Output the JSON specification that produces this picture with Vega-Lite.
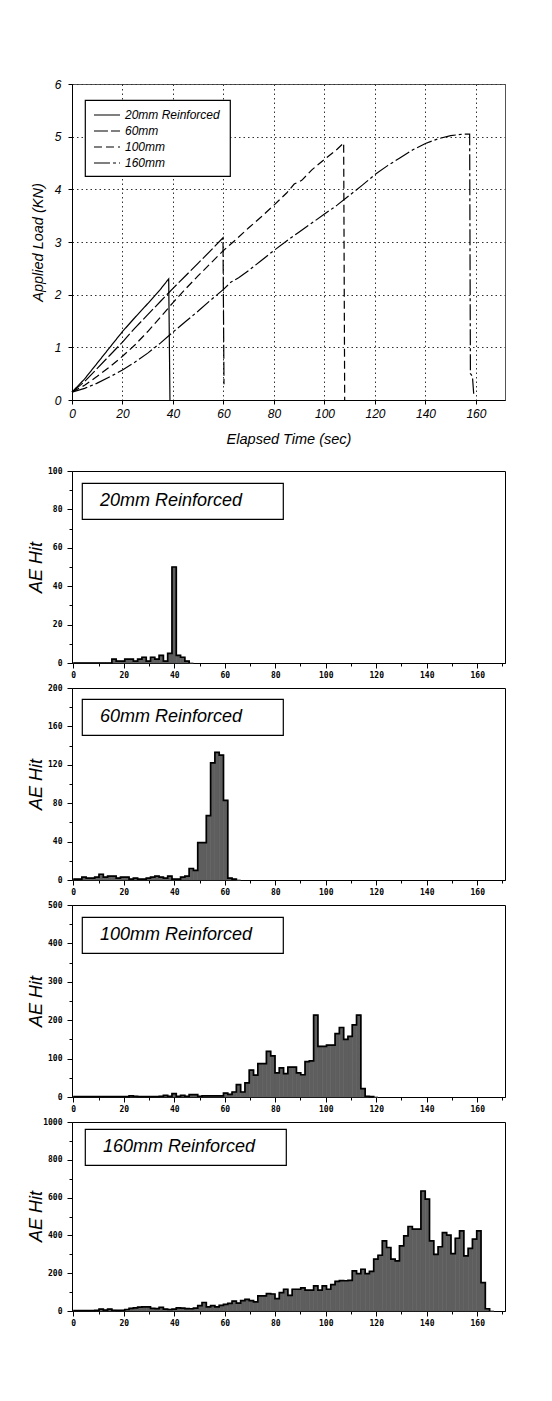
{
"$schema": "https://vega.github.io/schema/vega-lite/v6.json",
"background": "white",
"padding": {"left": 26, "top": 77, "right": 5, "bottom": 5},
"bounds": "flush",
"spacing": 71,
"config": {
  "font": "Liberation Sans",
  "view": {"stroke": "#000", "strokeWidth": 1},
  "axis": {"labelFlush": false, "labelOverlap": false, "domainColor": "#000", "tickColor": "#000", "labelColor": "#000", "titleColor": "#000"},
  "legend": {"strokeWidth": 1.2}
},
"datasets": {
  "load": [
    {"t":0,"load":0.15,"series":"20mm Reinforced"},{"t":5,"load":0.4,"series":"20mm Reinforced"},{"t":10,"load":0.7,"series":"20mm Reinforced"},{"t":15,"load":1.0,"series":"20mm Reinforced"},{"t":20,"load":1.3,"series":"20mm Reinforced"},{"t":25,"load":1.57,"series":"20mm Reinforced"},{"t":30,"load":1.83,"series":"20mm Reinforced"},{"t":35,"load":2.1,"series":"20mm Reinforced"},{"t":38.3,"load":2.3,"series":"20mm Reinforced"},{"t":38.8,"load":0,"series":"20mm Reinforced"},
    {"t":0,"load":0.15,"series":"60mm"},{"t":5,"load":0.35,"series":"60mm"},{"t":10,"load":0.6,"series":"60mm"},{"t":15,"load":0.85,"series":"60mm"},{"t":20,"load":1.1,"series":"60mm"},{"t":25,"load":1.37,"series":"60mm"},{"t":30,"load":1.62,"series":"60mm"},{"t":35,"load":1.87,"series":"60mm"},{"t":40,"load":2.12,"series":"60mm"},{"t":45,"load":2.36,"series":"60mm"},{"t":50,"load":2.6,"series":"60mm"},{"t":55,"load":2.84,"series":"60mm"},{"t":59.8,"load":3.08,"series":"60mm"},{"t":60.2,"load":0.3,"series":"60mm"},
    {"t":0,"load":0.15,"series":"100mm"},{"t":5,"load":0.28,"series":"100mm"},{"t":10,"load":0.45,"series":"100mm"},{"t":15,"load":0.63,"series":"100mm"},{"t":20,"load":0.83,"series":"100mm"},{"t":25,"load":1.05,"series":"100mm"},{"t":30,"load":1.3,"series":"100mm"},{"t":35,"load":1.57,"series":"100mm"},{"t":40,"load":1.85,"series":"100mm"},{"t":45,"load":2.11,"series":"100mm"},{"t":50,"load":2.36,"series":"100mm"},{"t":55,"load":2.6,"series":"100mm"},{"t":60,"load":2.84,"series":"100mm"},{"t":65,"load":3.05,"series":"100mm"},{"t":70,"load":3.27,"series":"100mm"},{"t":75,"load":3.48,"series":"100mm"},{"t":80,"load":3.7,"series":"100mm"},{"t":85,"load":3.93,"series":"100mm"},{"t":88,"load":4.1,"series":"100mm"},{"t":91,"load":4.17,"series":"100mm"},{"t":95,"load":4.37,"series":"100mm"},{"t":100,"load":4.57,"series":"100mm"},{"t":105,"load":4.76,"series":"100mm"},{"t":107.6,"load":4.88,"series":"100mm"},{"t":108,"load":0,"series":"100mm"},
    {"t":0,"load":0.15,"series":"160mm"},{"t":5,"load":0.22,"series":"160mm"},{"t":10,"load":0.32,"series":"160mm"},{"t":15,"load":0.44,"series":"160mm"},{"t":20,"load":0.57,"series":"160mm"},{"t":25,"load":0.72,"series":"160mm"},{"t":30,"load":0.89,"series":"160mm"},{"t":35,"load":1.08,"series":"160mm"},{"t":40,"load":1.29,"series":"160mm"},{"t":45,"load":1.49,"series":"160mm"},{"t":50,"load":1.69,"series":"160mm"},{"t":55,"load":1.9,"series":"160mm"},{"t":60,"load":2.1,"series":"160mm"},{"t":63,"load":2.24,"series":"160mm"},{"t":66,"load":2.32,"series":"160mm"},{"t":70,"load":2.46,"series":"160mm"},{"t":75,"load":2.65,"series":"160mm"},{"t":80,"load":2.84,"series":"160mm"},{"t":85,"load":3.02,"series":"160mm"},{"t":90,"load":3.19,"series":"160mm"},{"t":95,"load":3.36,"series":"160mm"},{"t":100,"load":3.53,"series":"160mm"},{"t":105,"load":3.7,"series":"160mm"},{"t":110,"load":3.89,"series":"160mm"},{"t":115,"load":4.08,"series":"160mm"},{"t":120,"load":4.28,"series":"160mm"},{"t":125,"load":4.45,"series":"160mm"},{"t":130,"load":4.6,"series":"160mm"},{"t":135,"load":4.75,"series":"160mm"},{"t":140,"load":4.87,"series":"160mm"},{"t":145,"load":4.96,"series":"160mm"},{"t":150,"load":5.02,"series":"160mm"},{"t":155,"load":5.05,"series":"160mm"},{"t":157.5,"load":5.05,"series":"160mm"},{"t":157.8,"load":0.5,"series":"160mm"},{"t":158.6,"load":0.45,"series":"160mm"},{"t":159.1,"load":0.12,"series":"160mm"}
  ],
  "hits": [
    {"start":0,"end":1.7,"hits":0,"specimen":"20mm Reinforced"},{"start":1.7,"end":3.4,"hits":0,"specimen":"20mm Reinforced"},{"start":3.4,"end":5.1,"hits":0,"specimen":"20mm Reinforced"},{"start":5.1,"end":6.8,"hits":0,"specimen":"20mm Reinforced"},{"start":6.8,"end":8.5,"hits":0,"specimen":"20mm Reinforced"},{"start":8.5,"end":10.2,"hits":0,"specimen":"20mm Reinforced"},{"start":10.2,"end":11.9,"hits":0,"specimen":"20mm Reinforced"},{"start":11.9,"end":13.6,"hits":0,"specimen":"20mm Reinforced"},{"start":13.6,"end":15.3,"hits":0,"specimen":"20mm Reinforced"},{"start":15.3,"end":17,"hits":2,"specimen":"20mm Reinforced"},{"start":17,"end":18.7,"hits":1,"specimen":"20mm Reinforced"},{"start":18.7,"end":20.4,"hits":1,"specimen":"20mm Reinforced"},{"start":20.4,"end":22.1,"hits":2,"specimen":"20mm Reinforced"},{"start":22.1,"end":23.8,"hits":2,"specimen":"20mm Reinforced"},{"start":23.8,"end":25.5,"hits":1,"specimen":"20mm Reinforced"},{"start":25.5,"end":27.2,"hits":2,"specimen":"20mm Reinforced"},{"start":27.2,"end":28.9,"hits":3,"specimen":"20mm Reinforced"},{"start":28.9,"end":30.6,"hits":1,"specimen":"20mm Reinforced"},{"start":30.6,"end":32.3,"hits":3,"specimen":"20mm Reinforced"},{"start":32.3,"end":34,"hits":2,"specimen":"20mm Reinforced"},{"start":34,"end":35.7,"hits":4,"specimen":"20mm Reinforced"},{"start":35.7,"end":37.4,"hits":1,"specimen":"20mm Reinforced"},{"start":37.4,"end":39.1,"hits":5,"specimen":"20mm Reinforced"},{"start":39.1,"end":40.8,"hits":50,"specimen":"20mm Reinforced"},{"start":40.8,"end":42.5,"hits":4,"specimen":"20mm Reinforced"},{"start":42.5,"end":44.2,"hits":3,"specimen":"20mm Reinforced"},{"start":44.2,"end":45.9,"hits":1,"specimen":"20mm Reinforced"},{"start":45.9,"end":47.6,"hits":0,"specimen":"20mm Reinforced"},

    {"start":0,"end":1.7,"hits":1,"specimen":"60mm Reinforced"},{"start":1.7,"end":3.4,"hits":1,"specimen":"60mm Reinforced"},{"start":3.4,"end":5.1,"hits":3,"specimen":"60mm Reinforced"},{"start":5.1,"end":6.8,"hits":2,"specimen":"60mm Reinforced"},{"start":6.8,"end":8.5,"hits":2,"specimen":"60mm Reinforced"},{"start":8.5,"end":10.2,"hits":3,"specimen":"60mm Reinforced"},{"start":10.2,"end":11.9,"hits":6,"specimen":"60mm Reinforced"},{"start":11.9,"end":13.6,"hits":3,"specimen":"60mm Reinforced"},{"start":13.6,"end":15.3,"hits":4,"specimen":"60mm Reinforced"},{"start":15.3,"end":17,"hits":4,"specimen":"60mm Reinforced"},{"start":17,"end":18.7,"hits":2,"specimen":"60mm Reinforced"},{"start":18.7,"end":20.4,"hits":3,"specimen":"60mm Reinforced"},{"start":20.4,"end":22.1,"hits":3,"specimen":"60mm Reinforced"},{"start":22.1,"end":23.8,"hits":1,"specimen":"60mm Reinforced"},{"start":23.8,"end":25.5,"hits":2,"specimen":"60mm Reinforced"},{"start":25.5,"end":27.2,"hits":1,"specimen":"60mm Reinforced"},{"start":27.2,"end":28.9,"hits":1,"specimen":"60mm Reinforced"},{"start":28.9,"end":30.6,"hits":2,"specimen":"60mm Reinforced"},{"start":30.6,"end":32.3,"hits":3,"specimen":"60mm Reinforced"},{"start":32.3,"end":34,"hits":4,"specimen":"60mm Reinforced"},{"start":34,"end":35.7,"hits":3,"specimen":"60mm Reinforced"},{"start":35.7,"end":37.4,"hits":2,"specimen":"60mm Reinforced"},{"start":37.4,"end":39.1,"hits":4,"specimen":"60mm Reinforced"},{"start":39.1,"end":40.8,"hits":1,"specimen":"60mm Reinforced"},{"start":40.8,"end":42.5,"hits":1,"specimen":"60mm Reinforced"},{"start":42.5,"end":44.2,"hits":3,"specimen":"60mm Reinforced"},{"start":44.2,"end":45.9,"hits":4,"specimen":"60mm Reinforced"},{"start":45.9,"end":47.6,"hits":12,"specimen":"60mm Reinforced"},{"start":47.6,"end":49.3,"hits":10,"specimen":"60mm Reinforced"},{"start":49.3,"end":51,"hits":39,"specimen":"60mm Reinforced"},{"start":51,"end":52.7,"hits":39,"specimen":"60mm Reinforced"},{"start":52.7,"end":54.4,"hits":67,"specimen":"60mm Reinforced"},{"start":54.4,"end":56.1,"hits":122,"specimen":"60mm Reinforced"},{"start":56.1,"end":57.8,"hits":133,"specimen":"60mm Reinforced"},{"start":57.8,"end":59.5,"hits":130,"specimen":"60mm Reinforced"},{"start":59.5,"end":61.2,"hits":83,"specimen":"60mm Reinforced"},{"start":61.2,"end":62.9,"hits":2,"specimen":"60mm Reinforced"},{"start":62.9,"end":64.6,"hits":1,"specimen":"60mm Reinforced"},{"start":64.6,"end":66.3,"hits":0,"specimen":"60mm Reinforced"},

    {"start":0,"end":1.7,"hits":1,"specimen":"100mm Reinforced"},{"start":1.7,"end":3.4,"hits":1,"specimen":"100mm Reinforced"},{"start":3.4,"end":5.1,"hits":1,"specimen":"100mm Reinforced"},{"start":5.1,"end":6.8,"hits":1,"specimen":"100mm Reinforced"},{"start":6.8,"end":8.5,"hits":1,"specimen":"100mm Reinforced"},{"start":8.5,"end":10.2,"hits":1,"specimen":"100mm Reinforced"},{"start":10.2,"end":11.9,"hits":1,"specimen":"100mm Reinforced"},{"start":11.9,"end":13.6,"hits":1,"specimen":"100mm Reinforced"},{"start":13.6,"end":15.3,"hits":1,"specimen":"100mm Reinforced"},{"start":15.3,"end":17,"hits":1,"specimen":"100mm Reinforced"},{"start":17,"end":18.7,"hits":1,"specimen":"100mm Reinforced"},{"start":18.7,"end":20.4,"hits":1,"specimen":"100mm Reinforced"},{"start":20.4,"end":22.1,"hits":1,"specimen":"100mm Reinforced"},{"start":22.1,"end":23.8,"hits":3,"specimen":"100mm Reinforced"},{"start":23.8,"end":25.5,"hits":2,"specimen":"100mm Reinforced"},{"start":25.5,"end":27.2,"hits":1,"specimen":"100mm Reinforced"},{"start":27.2,"end":28.9,"hits":1,"specimen":"100mm Reinforced"},{"start":28.9,"end":30.6,"hits":1,"specimen":"100mm Reinforced"},{"start":30.6,"end":32.3,"hits":1,"specimen":"100mm Reinforced"},{"start":32.3,"end":34,"hits":1,"specimen":"100mm Reinforced"},{"start":34,"end":35.7,"hits":2,"specimen":"100mm Reinforced"},{"start":35.7,"end":37.4,"hits":4,"specimen":"100mm Reinforced"},{"start":37.4,"end":39.1,"hits":2,"specimen":"100mm Reinforced"},{"start":39.1,"end":40.8,"hits":9,"specimen":"100mm Reinforced"},{"start":40.8,"end":42.5,"hits":2,"specimen":"100mm Reinforced"},{"start":42.5,"end":44.2,"hits":4,"specimen":"100mm Reinforced"},{"start":44.2,"end":45.9,"hits":2,"specimen":"100mm Reinforced"},{"start":45.9,"end":47.6,"hits":6,"specimen":"100mm Reinforced"},{"start":47.6,"end":49.3,"hits":6,"specimen":"100mm Reinforced"},{"start":49.3,"end":51,"hits":2,"specimen":"100mm Reinforced"},{"start":51,"end":52.7,"hits":3,"specimen":"100mm Reinforced"},{"start":52.7,"end":54.4,"hits":3,"specimen":"100mm Reinforced"},{"start":54.4,"end":56.1,"hits":3,"specimen":"100mm Reinforced"},{"start":56.1,"end":57.8,"hits":3,"specimen":"100mm Reinforced"},{"start":57.8,"end":59.5,"hits":3,"specimen":"100mm Reinforced"},{"start":59.5,"end":61.2,"hits":10,"specimen":"100mm Reinforced"},{"start":61.2,"end":62.9,"hits":7,"specimen":"100mm Reinforced"},{"start":62.9,"end":64.6,"hits":13,"specimen":"100mm Reinforced"},{"start":64.6,"end":66.3,"hits":32,"specimen":"100mm Reinforced"},{"start":66.3,"end":68,"hits":13,"specimen":"100mm Reinforced"},{"start":68,"end":69.7,"hits":37,"specimen":"100mm Reinforced"},{"start":69.7,"end":71.4,"hits":70,"specimen":"100mm Reinforced"},{"start":71.4,"end":73.1,"hits":57,"specimen":"100mm Reinforced"},{"start":73.1,"end":74.8,"hits":87,"specimen":"100mm Reinforced"},{"start":74.8,"end":76.5,"hits":87,"specimen":"100mm Reinforced"},{"start":76.5,"end":78.2,"hits":119,"specimen":"100mm Reinforced"},{"start":78.2,"end":79.9,"hits":107,"specimen":"100mm Reinforced"},{"start":79.9,"end":81.6,"hits":63,"specimen":"100mm Reinforced"},{"start":81.6,"end":83.3,"hits":76,"specimen":"100mm Reinforced"},{"start":83.3,"end":85,"hits":61,"specimen":"100mm Reinforced"},{"start":85,"end":86.7,"hits":78,"specimen":"100mm Reinforced"},{"start":86.7,"end":88.4,"hits":78,"specimen":"100mm Reinforced"},{"start":88.4,"end":90.1,"hits":63,"specimen":"100mm Reinforced"},{"start":90.1,"end":91.8,"hits":58,"specimen":"100mm Reinforced"},{"start":91.8,"end":93.5,"hits":92,"specimen":"100mm Reinforced"},{"start":93.5,"end":95.2,"hits":94,"specimen":"100mm Reinforced"},{"start":95.2,"end":96.9,"hits":213,"specimen":"100mm Reinforced"},{"start":96.9,"end":98.6,"hits":132,"specimen":"100mm Reinforced"},{"start":98.6,"end":100.3,"hits":132,"specimen":"100mm Reinforced"},{"start":100.3,"end":102,"hits":135,"specimen":"100mm Reinforced"},{"start":102,"end":103.7,"hits":135,"specimen":"100mm Reinforced"},{"start":103.7,"end":105.4,"hits":165,"specimen":"100mm Reinforced"},{"start":105.4,"end":107.1,"hits":181,"specimen":"100mm Reinforced"},{"start":107.1,"end":108.8,"hits":150,"specimen":"100mm Reinforced"},{"start":108.8,"end":110.5,"hits":158,"specimen":"100mm Reinforced"},{"start":110.5,"end":112.2,"hits":188,"specimen":"100mm Reinforced"},{"start":112.2,"end":113.9,"hits":213,"specimen":"100mm Reinforced"},{"start":113.9,"end":115.6,"hits":22,"specimen":"100mm Reinforced"},{"start":115.6,"end":117.3,"hits":2,"specimen":"100mm Reinforced"},{"start":117.3,"end":119,"hits":1,"specimen":"100mm Reinforced"},{"start":119,"end":120.7,"hits":0,"specimen":"100mm Reinforced"},

    {"start":0,"end":1.7,"hits":2,"specimen":"160mm Reinforced"},{"start":1.7,"end":3.4,"hits":2,"specimen":"160mm Reinforced"},{"start":3.4,"end":5.1,"hits":2,"specimen":"160mm Reinforced"},{"start":5.1,"end":6.8,"hits":2,"specimen":"160mm Reinforced"},{"start":6.8,"end":8.5,"hits":2,"specimen":"160mm Reinforced"},{"start":8.5,"end":10.2,"hits":3,"specimen":"160mm Reinforced"},{"start":10.2,"end":11.9,"hits":10,"specimen":"160mm Reinforced"},{"start":11.9,"end":13.6,"hits":5,"specimen":"160mm Reinforced"},{"start":13.6,"end":15.3,"hits":10,"specimen":"160mm Reinforced"},{"start":15.3,"end":17,"hits":4,"specimen":"160mm Reinforced"},{"start":17,"end":18.7,"hits":3,"specimen":"160mm Reinforced"},{"start":18.7,"end":20.4,"hits":4,"specimen":"160mm Reinforced"},{"start":20.4,"end":22.1,"hits":8,"specimen":"160mm Reinforced"},{"start":22.1,"end":23.8,"hits":14,"specimen":"160mm Reinforced"},{"start":23.8,"end":25.5,"hits":17,"specimen":"160mm Reinforced"},{"start":25.5,"end":27.2,"hits":20,"specimen":"160mm Reinforced"},{"start":27.2,"end":28.9,"hits":22,"specimen":"160mm Reinforced"},{"start":28.9,"end":30.6,"hits":22,"specimen":"160mm Reinforced"},{"start":30.6,"end":32.3,"hits":14,"specimen":"160mm Reinforced"},{"start":32.3,"end":34,"hits":13,"specimen":"160mm Reinforced"},{"start":34,"end":35.7,"hits":19,"specimen":"160mm Reinforced"},{"start":35.7,"end":37.4,"hits":10,"specimen":"160mm Reinforced"},{"start":37.4,"end":39.1,"hits":8,"specimen":"160mm Reinforced"},{"start":39.1,"end":40.8,"hits":10,"specimen":"160mm Reinforced"},{"start":40.8,"end":42.5,"hits":17,"specimen":"160mm Reinforced"},{"start":42.5,"end":44.2,"hits":15,"specimen":"160mm Reinforced"},{"start":44.2,"end":45.9,"hits":13,"specimen":"160mm Reinforced"},{"start":45.9,"end":47.6,"hits":12,"specimen":"160mm Reinforced"},{"start":47.6,"end":49.3,"hits":15,"specimen":"160mm Reinforced"},{"start":49.3,"end":51,"hits":28,"specimen":"160mm Reinforced"},{"start":51,"end":52.7,"hits":45,"specimen":"160mm Reinforced"},{"start":52.7,"end":54.4,"hits":22,"specimen":"160mm Reinforced"},{"start":54.4,"end":56.1,"hits":28,"specimen":"160mm Reinforced"},{"start":56.1,"end":57.8,"hits":22,"specimen":"160mm Reinforced"},{"start":57.8,"end":59.5,"hits":30,"specimen":"160mm Reinforced"},{"start":59.5,"end":61.2,"hits":35,"specimen":"160mm Reinforced"},{"start":61.2,"end":62.9,"hits":40,"specimen":"160mm Reinforced"},{"start":62.9,"end":64.6,"hits":52,"specimen":"160mm Reinforced"},{"start":64.6,"end":66.3,"hits":42,"specimen":"160mm Reinforced"},{"start":66.3,"end":68,"hits":55,"specimen":"160mm Reinforced"},{"start":68,"end":69.7,"hits":62,"specimen":"160mm Reinforced"},{"start":69.7,"end":71.4,"hits":55,"specimen":"160mm Reinforced"},{"start":71.4,"end":73.1,"hits":48,"specimen":"160mm Reinforced"},{"start":73.1,"end":74.8,"hits":80,"specimen":"160mm Reinforced"},{"start":74.8,"end":76.5,"hits":80,"specimen":"160mm Reinforced"},{"start":76.5,"end":78.2,"hits":92,"specimen":"160mm Reinforced"},{"start":78.2,"end":79.9,"hits":90,"specimen":"160mm Reinforced"},{"start":79.9,"end":81.6,"hits":65,"specimen":"160mm Reinforced"},{"start":81.6,"end":83.3,"hits":97,"specimen":"160mm Reinforced"},{"start":83.3,"end":85,"hits":115,"specimen":"160mm Reinforced"},{"start":85,"end":86.7,"hits":83,"specimen":"160mm Reinforced"},{"start":86.7,"end":88.4,"hits":115,"specimen":"160mm Reinforced"},{"start":88.4,"end":90.1,"hits":115,"specimen":"160mm Reinforced"},{"start":90.1,"end":91.8,"hits":122,"specimen":"160mm Reinforced"},{"start":91.8,"end":93.5,"hits":110,"specimen":"160mm Reinforced"},{"start":93.5,"end":95.2,"hits":110,"specimen":"160mm Reinforced"},{"start":95.2,"end":96.9,"hits":133,"specimen":"160mm Reinforced"},{"start":96.9,"end":98.6,"hits":110,"specimen":"160mm Reinforced"},{"start":98.6,"end":100.3,"hits":133,"specimen":"160mm Reinforced"},{"start":100.3,"end":102,"hits":115,"specimen":"160mm Reinforced"},{"start":102,"end":103.7,"hits":140,"specimen":"160mm Reinforced"},{"start":103.7,"end":105.4,"hits":157,"specimen":"160mm Reinforced"},{"start":105.4,"end":107.1,"hits":161,"specimen":"160mm Reinforced"},{"start":107.1,"end":108.8,"hits":160,"specimen":"160mm Reinforced"},{"start":108.8,"end":110.5,"hits":162,"specimen":"160mm Reinforced"},{"start":110.5,"end":112.2,"hits":212,"specimen":"160mm Reinforced"},{"start":112.2,"end":113.9,"hits":198,"specimen":"160mm Reinforced"},{"start":113.9,"end":115.6,"hits":221,"specimen":"160mm Reinforced"},{"start":115.6,"end":117.3,"hits":198,"specimen":"160mm Reinforced"},{"start":117.3,"end":119,"hits":210,"specimen":"160mm Reinforced"},{"start":119,"end":120.7,"hits":274,"specimen":"160mm Reinforced"},{"start":120.7,"end":122.4,"hits":295,"specimen":"160mm Reinforced"},{"start":122.4,"end":124.1,"hits":371,"specimen":"160mm Reinforced"},{"start":124.1,"end":125.8,"hits":336,"specimen":"160mm Reinforced"},{"start":125.8,"end":127.5,"hits":274,"specimen":"160mm Reinforced"},{"start":127.5,"end":129.2,"hits":265,"specimen":"160mm Reinforced"},{"start":129.2,"end":130.9,"hits":345,"specimen":"160mm Reinforced"},{"start":130.9,"end":132.6,"hits":398,"specimen":"160mm Reinforced"},{"start":132.6,"end":134.3,"hits":447,"specimen":"160mm Reinforced"},{"start":134.3,"end":136,"hits":433,"specimen":"160mm Reinforced"},{"start":136,"end":137.7,"hits":433,"specimen":"160mm Reinforced"},{"start":137.7,"end":139.4,"hits":635,"specimen":"160mm Reinforced"},{"start":139.4,"end":141.1,"hits":592,"specimen":"160mm Reinforced"},{"start":141.1,"end":142.8,"hits":371,"specimen":"160mm Reinforced"},{"start":142.8,"end":144.5,"hits":300,"specimen":"160mm Reinforced"},{"start":144.5,"end":146.2,"hits":340,"specimen":"160mm Reinforced"},{"start":146.2,"end":147.9,"hits":415,"specimen":"160mm Reinforced"},{"start":147.9,"end":149.6,"hits":401,"specimen":"160mm Reinforced"},{"start":149.6,"end":151.3,"hits":304,"specimen":"160mm Reinforced"},{"start":151.3,"end":153,"hits":385,"specimen":"160mm Reinforced"},{"start":153,"end":154.7,"hits":424,"specimen":"160mm Reinforced"},{"start":154.7,"end":156.4,"hits":292,"specimen":"160mm Reinforced"},{"start":156.4,"end":158.1,"hits":331,"specimen":"160mm Reinforced"},{"start":158.1,"end":159.8,"hits":380,"specimen":"160mm Reinforced"},{"start":159.8,"end":161.5,"hits":424,"specimen":"160mm Reinforced"},{"start":161.5,"end":163.2,"hits":150,"specimen":"160mm Reinforced"},{"start":163.2,"end":164.9,"hits":12,"specimen":"160mm Reinforced"},{"start":164.9,"end":166.6,"hits":0,"specimen":"160mm Reinforced"}
  ]
},
"vconcat": [
  {
    "width": 433, "height": 316,
    "data": {"name": "load"},
    "view": {"stroke": "#555", "strokeWidth": 1},
    "mark": {"type": "line", "color": "#000", "strokeWidth": 1.2},
    "encoding": {
      "x": {"field": "t", "type": "quantitative", "scale": {"domain": [0, 171.5], "nice": false, "zero": false},
        "axis": {"values": [0,20,40,60,80,100,120,140,160], "grid": true, "gridDash": [1.5,3], "gridColor": "#333", "gridWidth": 1, "tickSize": 4, "labelPadding": 4, "labelFontStyle": "italic", "labelFontSize": 12, "title": "Elapsed Time (sec)", "titleFontStyle": "italic", "titleFontWeight": "normal", "titleFontSize": 14.5, "titlePadding": 13}},
      "y": {"field": "load", "type": "quantitative", "scale": {"domain": [0, 6], "nice": false},
        "axis": {"values": [0,1,2,3,4,5,6], "grid": true, "gridDash": [1.5,3], "gridColor": "#333", "gridWidth": 1, "tickSize": 4, "labelPadding": 7, "labelFontStyle": "italic", "labelFontSize": 12, "title": "Applied Load (KN)", "titleFontStyle": "italic", "titleFontWeight": "normal", "titleFontSize": 14.5, "titleX": -34, "titleY": 158, "titleAngle": 270, "titleAlign": "center", "titleBaseline": "middle"}},
      "strokeDash": {"field": "series", "type": "nominal",
        "scale": {"domain": ["20mm Reinforced","60mm","100mm","160mm"], "range": [[1,0],[14,3],[8,4],[16,3,3,3]]},
        "legend": {"title": "\u00a0", "titleOrient": "right", "titlePadding": 3, "titleFontSize": 1, "orient": "none", "legendX": 13, "legendY": 16, "symbolType": "M-1.86,0H1.86", "symbolSize": 196, "symbolOffset": 7, "symbolStrokeWidth": 1.2, "symbolStrokeColor": "#000", "symbolFillColor": "transparent", "labelFontSize": 12, "labelFontStyle": "italic", "labelColor": "#000", "labelOffset": 10, "padding": 7, "rowPadding": 2, "strokeColor": "#000", "fillColor": "#fff"}}
    }
  },
  {
    "bounds": "flush",
    "spacing": 25,
    "resolve": {"scale": {"fill": "independent"}, "legend": {"fill": "independent"}},
    "vconcat": [
      {
        "width": 433, "height": 192,
        "data": {"name": "hits"},
        "transform": [{"filter": "datum.specimen === '20mm Reinforced'"}],
        "encoding": {
          "x": {"field": "start", "type": "quantitative", "scale": {"domain": [-0.5, 171], "nice": false, "zero": false},
            "axis": {"values": [0,10,20,30,40,50,60,70,80,90,100,110,120,130,140,150,160,170], "labelExpr": "datum.value % 20 === 0 ? datum.label : ''", "tickSize": {"condition": {"test": "datum.value % 20 === 0", "value": 5}, "value": 3}, "labelFont": "DejaVu Sans Mono", "labelFontWeight": "bold", "labelFontSize": 8, "labelPadding": 3, "grid": false, "title": null}},
          "y": {"field": "hits", "type": "quantitative", "scale": {"domain": [0, 100], "nice": false},
            "axis": {"values": [0,10,20,30,40,50,60,70,80,90,100], "labelExpr": "datum.value % 20 === 0 ? datum.label : ''", "tickSize": {"condition": {"test": "datum.value % 20 === 0", "value": 5}, "value": 3}, "labelFont": "DejaVu Sans Mono", "labelFontWeight": "bold", "labelFontSize": 8, "labelPadding": 5, "grid": false, "title": "AE Hit", "titleFontStyle": "italic", "titleFontWeight": "normal", "titleFontSize": 18, "titleX": -36, "titleY": 96, "titleAngle": 270, "titleAlign": "center", "titleBaseline": "middle"}}
        },
        "layer": [
          {"mark": {"type": "bar", "stroke": "#5e5e5e", "strokeWidth": 0.6}, "encoding": {"x2": {"field": "end"}, "y2": {"datum": 0},
            "fill": {"field": "specimen", "type": "nominal", "scale": {"range": ["#5e5e5e"]},
              "legend": {"title": "\u00a0", "titleOrient": "right", "titlePadding": 32, "titleFontSize": 1, "orient": "none", "legendX": 10, "legendY": 12, "symbolSize": 0, "symbolOpacity": 0, "labelFontSize": 18, "labelFontStyle": "italic", "labelColor": "#000", "labelOffset": -9, "padding": 9, "strokeColor": "#000", "fillColor": "#fff"}}}},
          {"mark": {"type": "line", "interpolate": "step-after", "color": "#000", "strokeWidth": 1.7}}
        ]
      },
      {
        "width": 433, "height": 192,
        "data": {"name": "hits"},
        "transform": [{"filter": "datum.specimen === '60mm Reinforced'"}],
        "encoding": {
          "x": {"field": "start", "type": "quantitative", "scale": {"domain": [-0.5, 171], "nice": false, "zero": false},
            "axis": {"values": [0,10,20,30,40,50,60,70,80,90,100,110,120,130,140,150,160,170], "labelExpr": "datum.value % 20 === 0 ? datum.label : ''", "tickSize": {"condition": {"test": "datum.value % 20 === 0", "value": 5}, "value": 3}, "labelFont": "DejaVu Sans Mono", "labelFontWeight": "bold", "labelFontSize": 8, "labelPadding": 3, "grid": false, "title": null}},
          "y": {"field": "hits", "type": "quantitative", "scale": {"domain": [0, 200], "nice": false},
            "axis": {"values": [0,20,40,60,80,100,120,140,160,180,200], "labelExpr": "datum.value % 40 === 0 ? datum.label : ''", "tickSize": {"condition": {"test": "datum.value % 40 === 0", "value": 5}, "value": 3}, "labelFont": "DejaVu Sans Mono", "labelFontWeight": "bold", "labelFontSize": 8, "labelPadding": 5, "grid": false, "title": "AE Hit", "titleFontStyle": "italic", "titleFontWeight": "normal", "titleFontSize": 18, "titleX": -36, "titleY": 96, "titleAngle": 270, "titleAlign": "center", "titleBaseline": "middle"}}
        },
        "layer": [
          {"mark": {"type": "bar", "stroke": "#5e5e5e", "strokeWidth": 0.6}, "encoding": {"x2": {"field": "end"}, "y2": {"datum": 0},
            "fill": {"field": "specimen", "type": "nominal", "scale": {"range": ["#5e5e5e"]},
              "legend": {"title": "\u00a0", "titleOrient": "right", "titlePadding": 32, "titleFontSize": 1, "orient": "none", "legendX": 10, "legendY": 11, "symbolSize": 0, "symbolOpacity": 0, "labelFontSize": 18, "labelFontStyle": "italic", "labelColor": "#000", "labelOffset": -9, "padding": 9, "strokeColor": "#000", "fillColor": "#fff"}}}},
          {"mark": {"type": "line", "interpolate": "step-after", "color": "#000", "strokeWidth": 1.7}}
        ]
      },
      {
        "width": 433, "height": 192,
        "data": {"name": "hits"},
        "transform": [{"filter": "datum.specimen === '100mm Reinforced'"}],
        "encoding": {
          "x": {"field": "start", "type": "quantitative", "scale": {"domain": [-0.5, 171], "nice": false, "zero": false},
            "axis": {"values": [0,10,20,30,40,50,60,70,80,90,100,110,120,130,140,150,160,170], "labelExpr": "datum.value % 20 === 0 ? datum.label : ''", "tickSize": {"condition": {"test": "datum.value % 20 === 0", "value": 5}, "value": 3}, "labelFont": "DejaVu Sans Mono", "labelFontWeight": "bold", "labelFontSize": 8, "labelPadding": 3, "grid": false, "title": null}},
          "y": {"field": "hits", "type": "quantitative", "scale": {"domain": [0, 500], "nice": false},
            "axis": {"values": [0,50,100,150,200,250,300,350,400,450,500], "labelExpr": "datum.value % 100 === 0 ? datum.label : ''", "tickSize": {"condition": {"test": "datum.value % 100 === 0", "value": 5}, "value": 3}, "labelFont": "DejaVu Sans Mono", "labelFontWeight": "bold", "labelFontSize": 8, "labelPadding": 5, "grid": false, "title": "AE Hit", "titleFontStyle": "italic", "titleFontWeight": "normal", "titleFontSize": 18, "titleX": -36, "titleY": 96, "titleAngle": 270, "titleAlign": "center", "titleBaseline": "middle"}}
        },
        "layer": [
          {"mark": {"type": "bar", "stroke": "#5e5e5e", "strokeWidth": 0.6}, "encoding": {"x2": {"field": "end"}, "y2": {"datum": 0},
            "fill": {"field": "specimen", "type": "nominal", "scale": {"range": ["#5e5e5e"]},
              "legend": {"title": "\u00a0", "titleOrient": "right", "titlePadding": 22, "titleFontSize": 1, "orient": "none", "legendX": 10, "legendY": 12, "symbolSize": 0, "symbolOpacity": 0, "labelFontSize": 18, "labelFontStyle": "italic", "labelColor": "#000", "labelOffset": -9, "padding": 9, "strokeColor": "#000", "fillColor": "#fff"}}}},
          {"mark": {"type": "line", "interpolate": "step-after", "color": "#000", "strokeWidth": 1.7}}
        ]
      },
      {
        "width": 433, "height": 189,
        "data": {"name": "hits"},
        "transform": [{"filter": "datum.specimen === '160mm Reinforced'"}],
        "encoding": {
          "x": {"field": "start", "type": "quantitative", "scale": {"domain": [-0.5, 171], "nice": false, "zero": false},
            "axis": {"values": [0,10,20,30,40,50,60,70,80,90,100,110,120,130,140,150,160,170], "labelExpr": "datum.value % 20 === 0 ? datum.label : ''", "tickSize": {"condition": {"test": "datum.value % 20 === 0", "value": 5}, "value": 3}, "labelFont": "DejaVu Sans Mono", "labelFontWeight": "bold", "labelFontSize": 8, "labelPadding": 3, "grid": false, "title": null}},
          "y": {"field": "hits", "type": "quantitative", "scale": {"domain": [0, 1000], "nice": false},
            "axis": {"values": [0,100,200,300,400,500,600,700,800,900,1000], "labelExpr": "datum.value % 200 === 0 ? datum.label : ''", "tickSize": {"condition": {"test": "datum.value % 200 === 0", "value": 5}, "value": 3}, "labelFont": "DejaVu Sans Mono", "labelFontWeight": "bold", "labelFontSize": 8, "labelPadding": 5, "format": "d", "grid": false, "title": "AE Hit", "titleFontStyle": "italic", "titleFontWeight": "normal", "titleFontSize": 18, "titleX": -36, "titleY": 94, "titleAngle": 270, "titleAlign": "center", "titleBaseline": "middle"}}
        },
        "layer": [
          {"mark": {"type": "bar", "stroke": "#5e5e5e", "strokeWidth": 0.6}, "encoding": {"x2": {"field": "end"}, "y2": {"datum": 0},
            "fill": {"field": "specimen", "type": "nominal", "scale": {"range": ["#5e5e5e"]},
              "legend": {"title": "\u00a0", "titleOrient": "right", "titlePadding": 22, "titleFontSize": 1, "orient": "none", "legendX": 13, "legendY": 7, "symbolSize": 0, "symbolOpacity": 0, "labelFontSize": 18, "labelFontStyle": "italic", "labelColor": "#000", "labelOffset": -9, "padding": 9, "strokeColor": "#000", "fillColor": "#fff"}}}},
          {"mark": {"type": "line", "interpolate": "step-after", "color": "#000", "strokeWidth": 1.7}}
        ]
      }
    ]
  }
]
}
